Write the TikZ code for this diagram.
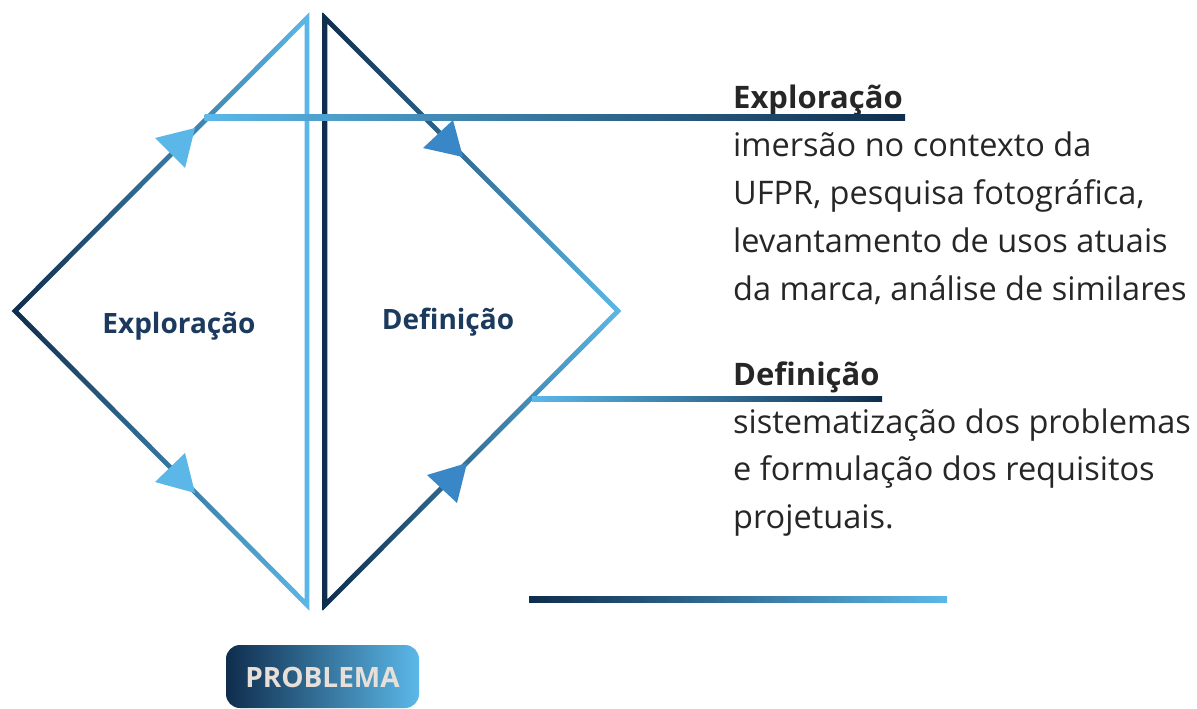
\documentclass[tikz,border=0pt]{standalone}
\usepackage{fontspec}
\setmainfont{Open Sans}
\usepackage{tikz}
\usetikzlibrary{calc}
\definecolor{navy}{HTML}{0F2D4D}
\definecolor{midblue}{HTML}{1F568F}
\definecolor{sky}{HTML}{5BB8E8}
\definecolor{arrowsky}{HTML}{5AB7E7}
\definecolor{arrowmid}{HTML}{3A87C7}
\definecolor{txtnavy}{HTML}{1B3A5E}
\definecolor{txtgray}{HTML}{262626}
\definecolor{probtxt}{HTML}{E8E0D8}

\begin{document}
\begin{tikzpicture}[x=1pt,y=-1pt,
  body/.style={inner sep=0pt,anchor=base west,text=txtgray,font=\fontsize{32.5}{48}\selectfont},
  head/.style={body,font=\bfseries\fontsize{31}{48}\selectfont},
  phase/.style={inner sep=0pt,anchor=base,text=txtnavy,font=\bfseries\fontsize{28}{32}\selectfont}]
\useasboundingbox (0,0) rectangle (1197,709);

% left triangle
\coordinate (T1) at (307,18);
\coordinate (L1) at (15,311);
\coordinate (B1) at (307,605);
\coordinate (I1) at (185.9,311.1);
\shade[left color=navy,right color=sky,even odd rule]
  ($(I1)!1.02!(T1)$) -- ($(I1)!1.02!(L1)$) -- ($(I1)!1.02!(B1)$) -- cycle
  ($(I1)!0.98!(T1)$) -- ($(I1)!0.98!(B1)$) -- ($(I1)!0.98!(L1)$) -- cycle;

% right triangle
\coordinate (T2) at (325,18);
\coordinate (R2) at (618,311);
\coordinate (B2) at (325,605);
\coordinate (I2) at (446.4,311.1);
\shade[left color=navy,middle color=midblue,right color=sky,even odd rule]
  ($(I2)!1.02!(T2)$) -- ($(I2)!1.02!(R2)$) -- ($(I2)!1.02!(B2)$) -- cycle
  ($(I2)!0.98!(T2)$) -- ($(I2)!0.98!(B2)$) -- ($(I2)!0.98!(R2)$) -- cycle;

% arrow heads
\fill[arrowsky] (195,128) -- (155,138) -- (185,168) -- cycle;
\fill[arrowsky] (195,493) -- (155,482) -- (185,453) -- cycle;
\fill[arrowmid] (463,157) -- (423,148) -- (453,120) -- cycle;
\fill[arrowmid] (467,463) -- (427,475) -- (457,503) -- cycle;

% phase labels
\node (LE) at (179,333)[phase] {Exploração};
\node (LD) at (448,329)[phase] {Definição};

% text on the right
\node (EH) at (733,108)[head] {Exploração};
\node (E1) at (733,156)[body] {imersão no contexto da};
\node (E2) at (733,204)[body] {UFPR, pesquisa fotográfica,};
\node (E3) at (733,252)[body] {levantamento de usos atuais};
\node (E4) at (733,300)[body] {da marca, análise de similares};
\node (DH) at (733,385)[head] {Definição};
\node (D1) at (733,433)[body] {sistematização dos problemas};
\node (D2) at (733,480)[body] {e formulação dos requisitos};
\node (D3) at (733,528)[body] {projetuais.};

% connectors
\coordinate (c1) at (204.5,114.5);
\coordinate (c2) at (905,120);
\shade[left color=sky,right color=navy] (c1) rectangle (c2);
\coordinate (c3) at (532,396.5);
\coordinate (c4) at (882,401.5);
\shade[left color=sky,right color=navy] (c3) rectangle (c4);
\coordinate (c5) at (529,596);
\coordinate (c6) at (947,602);
\shade[left color=navy,middle color=midblue,right color=sky] (c5) rectangle (c6);

% problema
\shade[left color=navy,middle color=midblue,right color=sky,rounded corners=14] (226,645) rectangle (419,708);
\node (P) at (322.5,677)[text=probtxt,font=\bfseries\fontsize{28}{30}\selectfont] {PROBLEMA};
\end{tikzpicture}
\end{document}
